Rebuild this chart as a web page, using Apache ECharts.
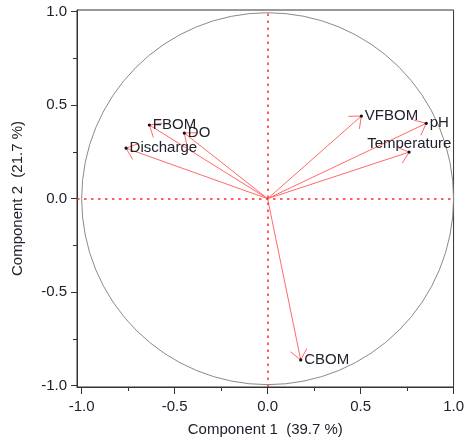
<!DOCTYPE html>
<html>
<head>
<meta charset="utf-8">
<script src="https://cdn.jsdelivr.net/npm/echarts@6/dist/echarts.min.js"></script>
<style>
html,body{margin:0;padding:0;background:#fff;}
#chart{width:467px;height:442px;}
</style>
</head>
<body>
<div id="chart"></div>
<script>
// ---- data ----
const variables = ['FBOM', 'DO', 'Discharge', 'VFBOM', 'pH', 'Temperature', 'CBOM'];
const component1 = [-0.636, -0.448, -0.761, 0.504, 0.853, 0.761, 0.178];
const component2 = [0.394, 0.351, 0.270, 0.442, 0.403, 0.249, -0.862];
const xTickLabels = [-1.0, -0.5, 0.0, 0.5, 1.0];
const yTickLabels = [-1.0, -0.5, 0.0, 0.5, 1.0];
const minorTicks = [-0.75, -0.25, 0.25, 0.75];
const xTitle = 'Component 1  (39.7 %)';
const yTitle = 'Component 2  (21.7 %)';
const circleRadius = [1];

// ---- styling / layout ----
const FONT = 'Liberation Sans, Arial, sans-serif';
const TEXT = '#22222e';
const labelOffset = { Temperature: [-42, -8] };
const X_MIN = -1.025, X_MAX = 1.0, Y_MIN = -1.007, Y_MAX = 1.009;

const chart = echarts.init(document.getElementById('chart'), null, { renderer: 'canvas' });

const baseAxis = {
  axisLine: { show: true, onZero: false, lineStyle: { color: '#333', width: 1 } },
  splitLine: { show: false },
  nameTextStyle: { fontFamily: FONT, fontSize: 15, color: TEXT },
};

const pts = variables.map((v, i) => [component1[i], component2[i], v]);

option = {
  animation: false,
  backgroundColor: '#fff',
  grid: { left: 77, right: 11, top: 10, bottom: 55, show: true, borderColor: '#333', borderWidth: 1, backgroundColor: 'transparent' },
  xAxis: [
    Object.assign({}, baseAxis, {
      type: 'value', min: X_MIN, max: X_MAX, position: 'bottom',
      name: xTitle, nameLocation: 'middle', nameGap: 35,
      axisTick: { show: true, inside: false, length: 7, customValues: xTickLabels, lineStyle: { color: '#333' } },
      axisLabel: { show: true, customValues: xTickLabels, margin: 12, fontFamily: FONT, fontSize: 15, color: TEXT,
        formatter: v => v.toFixed(1) },
    }),
    {
      type: 'value', min: X_MIN, max: X_MAX, position: 'bottom', gridIndex: 0,
      axisLine: { show: false, onZero: false }, splitLine: { show: false },
      axisTick: { show: true, inside: false, length: 4, customValues: minorTicks, lineStyle: { color: '#333' } },
      axisLabel: { show: false, customValues: minorTicks },
    }
  ],
  yAxis: [
    Object.assign({}, baseAxis, {
      type: 'value', min: Y_MIN, max: Y_MAX, position: 'left',
      name: yTitle, nameLocation: 'middle', nameGap: 52, nameRotate: 90,
      axisTick: { show: true, inside: false, length: 6, customValues: yTickLabels, lineStyle: { color: '#333' } },
      axisLabel: { show: true, customValues: yTickLabels, margin: 10, fontFamily: FONT, fontSize: 15, color: TEXT,
        formatter: v => v.toFixed(1) },
    }),
    {
      type: 'value', min: Y_MIN, max: Y_MAX, position: 'left', gridIndex: 0,
      axisLine: { show: false, onZero: false }, splitLine: { show: false },
      axisTick: { show: true, inside: false, length: 4, customValues: minorTicks, lineStyle: { color: '#333' } },
      axisLabel: { show: false, customValues: minorTicks },
    }
  ],
  series: [
    {
      type: 'line', data: [], xAxisIndex: 0, yAxisIndex: 0, silent: true,
      markLine: {
        silent: true, symbol: 'none', animation: false,
        label: { show: false },
        lineStyle: { color: '#ff2a2a', width: 1.5, type: [2.5, 4.5] },
        data: [{ xAxis: 0 }, { yAxis: 0 }]
      }
    },
    {
      type: 'custom', xAxisIndex: 0, yAxisIndex: 0, silent: true,
      data: circleRadius.map(r => [0, 0, r]),
      renderItem: function (params, api) {
        const c = api.coord([api.value(0), api.value(1)]);
        const r = api.size([api.value(2), 0])[0];
        return { type: 'circle', shape: { cx: c[0], cy: c[1], r: r },
          style: { fill: 'none', stroke: '#8a8a8a', lineWidth: 1 } };
      }
    },
    {
      type: 'custom', xAxisIndex: 0, yAxisIndex: 0, silent: true,
      data: pts,
      renderItem: function (params, api) {
        const o = api.coord([0, 0]);
        const p = api.coord([api.value(0), api.value(1)]);
        const name = variables[params.dataIndex];
        const ang = Math.atan2(o[1] - p[1], o[0] - p[0]);
        const L = 13, h = 40 * Math.PI / 180;
        const a1 = [p[0] + L * Math.cos(ang + h), p[1] + L * Math.sin(ang + h)];
        const a2 = [p[0] + L * Math.cos(ang - h), p[1] + L * Math.sin(ang - h)];
        const off = labelOffset[name] || [3.5, 0];
        const red = '#ff6a6a';
        return {
          type: 'group',
          children: [
            { type: 'line', shape: { x1: o[0], y1: o[1], x2: p[0], y2: p[1] }, style: { stroke: red, lineWidth: 1 } },
            { type: 'polyline', shape: { points: [a1, p, a2] }, style: { stroke: red, lineWidth: 1, fill: 'none' } },
            { type: 'circle', shape: { cx: p[0], cy: p[1], r: 1.6 }, style: { fill: '#111' } },
            { type: 'text', x: p[0] + off[0], y: p[1] + off[1],
              style: { text: name, fontFamily: FONT, fontSize: 15, fill: TEXT, align: 'left', verticalAlign: 'middle' } }
          ]
        };
      }
    }
  ]
};
chart.setOption(option);
</script>
</body>
</html>
